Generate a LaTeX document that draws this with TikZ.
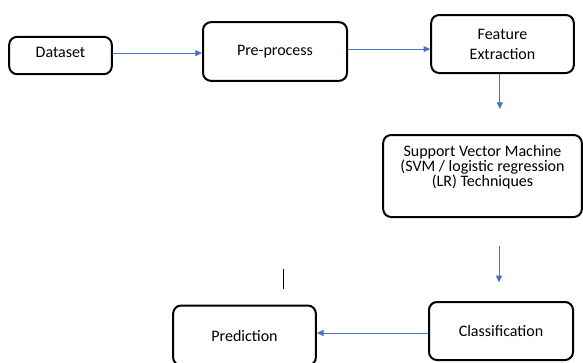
\documentclass[tikz,border=0pt]{standalone}
\usepackage{fontspec}
\setmainfont{Carlito}
\usepackage{tikz}
\usetikzlibrary{arrows.meta}

\definecolor{flowblue}{HTML}{4472C4}

\tikzset{
  stage/.style={draw=black, line width=1.5pt, rounded corners=6pt, align=center,
                font=\fontsize{12}{15}\selectfont, inner sep=2pt},
  flow/.style={->, draw=flowblue, line width=0.75pt}
}

\begin{document}
\begin{tikzpicture}[x=0.75pt, y=-0.75pt, >={Triangle[length=5pt, width=4.5pt]}]
    \useasboundingbox (0, 0) rectangle (583, 362);

    % draw the stages
    \node[stage, minimum width=77pt, minimum height=28pt, text depth=5pt] (ds) at (60.5, 55.5) {Dataset};
    \node[stage, minimum width=108pt, minimum height=44pt] (pre) at (275, 51.5) {Pre-process};
    \node[stage, minimum width=107pt, minimum height=43.5pt] (fe) at (502.5, 44) {Feature\\Extraction};
    \node[stage, minimum width=149pt, minimum height=61.5pt, text depth=15pt, font=\fontsize{12}{11.5}\selectfont]
      (svm) at (482.5, 176) {Support Vector Machine\\(SVM / logistic regression\\(LR) Techniques};
    \node[stage, minimum width=108pt, minimum height=43.5pt] (cl) at (501, 331) {Classification};
    \node[stage, minimum width=107pt, minimum height=45pt] (pr) at (244.5, 335.5) {Prediction};

    % draw the arrows
    \draw[flow] ([yshift=1.8pt]ds.east) -- ([yshift=1.8pt]ds.east -| pre.west);
    \draw[flow] ([yshift=1.8pt]pre.east) -- ([yshift=1.8pt]pre.east -| fe.west);
    \draw[flow, shorten >=18.75pt] ([xshift=-2pt]fe.south) -- ([xshift=-2pt]fe.south |- svm.north);
    \draw[flow, shorten <=21pt, shorten >=14pt] ([xshift=-1.5pt]svm.south -| cl.north) -- ([xshift=-1.5pt]cl.north);
    \draw[flow] ([yshift=-1.5pt]cl.west) -- ([yshift=-1.5pt]cl.west -| pr.east);

    % stray stroke
    \draw[black, line width=0.6pt] (283, 269) -- (283, 289);
\end{tikzpicture}
\end{document}
